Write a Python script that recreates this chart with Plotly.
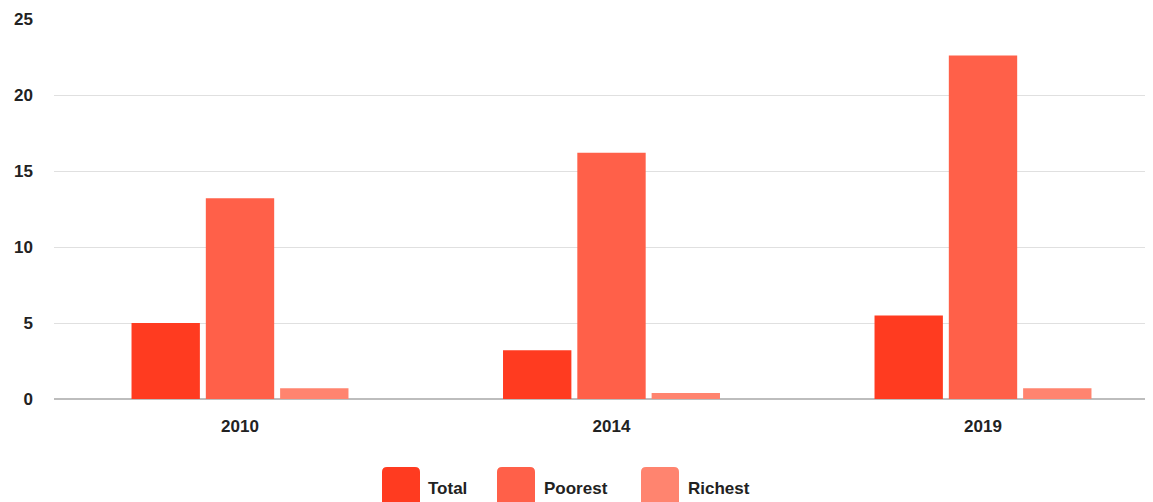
import plotly.graph_objects as go

years = ["2010", "2014", "2019"]
total = [5.0, 3.2, 5.5]
poorest = [13.2, 16.2, 22.6]
richest = [0.7, 0.4, 0.7]
series_names = ["Total", "Poorest", "Richest"]
y_ticks = [0, 5, 10, 15, 20, 25]

colors = ["#FF3B20", "#FF6049", "#FF846F"]

# page has an 8px body margin; work in figure coordinates (page - 8)
OFF = 8
W, H = 1153 - OFF, 502 - OFF
L, R, T, B = 54 - OFF, 0, 19 - OFF, 502 - 399
PW, PH = W - L - R, H - T - B

fig = go.Figure()
for name, vals, col in zip(series_names, [total, poorest, richest], colors):
    fig.add_trace(go.Bar(x=years, y=vals, name=name, marker=dict(color=col, line=dict(width=0)),
                         showlegend=False, hoverinfo="x+y+name"))

font = dict(family="Liberation Sans, Arial, sans-serif", size=17, color="#222222", weight="bold")

def px2x(px):
    return (px - OFF - L) / PW

def px2y(py):
    return (H - B - (py - OFF)) / PH

def rounded(x0, y0, x1, y1, r):
    rx = r / PW
    ry = r / PH
    a, b, c, d = px2x(x0), px2y(y0), px2x(x1), px2y(y1)
    return (f"M {a+rx},{b} L {c-rx},{b} Q {c},{b} {c},{b-ry} L {c},{d+ry} Q {c},{d} {c-rx},{d} "
            f"L {a+rx},{d} Q {a},{d} {a},{d+ry} L {a},{b-ry} Q {a},{b} {a+rx},{b} Z")

shapes = []
annotations = []
legend_pos = [(382, 426), (497, 542), (641, 686)]
for (sx, tx), name, col in zip(legend_pos, series_names, colors):
    shapes.append(dict(type="path", xref="paper", yref="paper", path=rounded(sx, 467, sx + 38, 512, 5),
                       fillcolor=col, line=dict(width=0)))
    annotations.append(dict(xref="paper", yref="paper", x=px2x(tx), y=px2y(488), text=name,
                            showarrow=False, xanchor="left", yanchor="middle", font=font))

center0 = 240 - OFF
fig.update_layout(
    width=W, height=H,
    margin=dict(l=L, r=R, t=T, b=B, pad=0),
    paper_bgcolor="white", plot_bgcolor="white",
    barmode="group", bargap=0.4, bargroupgap=0.08,
    shapes=shapes, annotations=annotations,
    xaxis=dict(type="category", range=[(L - center0) / 371.5, (W - R - center0) / 371.5], tickfont=font,
               showgrid=False, showline=False, ticks="", ticklabelstandoff=15, fixedrange=True),
    yaxis=dict(range=[0, 25], tickvals=y_ticks, tickfont=font, showgrid=True, gridcolor="#E0E0E0",
               gridwidth=1, zeroline=True, zerolinecolor="#BDBDBD", zerolinewidth=1.5,
               ticks="", ticklabelstandoff=20, showline=False, fixedrange=True),
    showlegend=False,
)

fig.write_html("out.html", post_script="document.body.style.overflow='hidden';")
